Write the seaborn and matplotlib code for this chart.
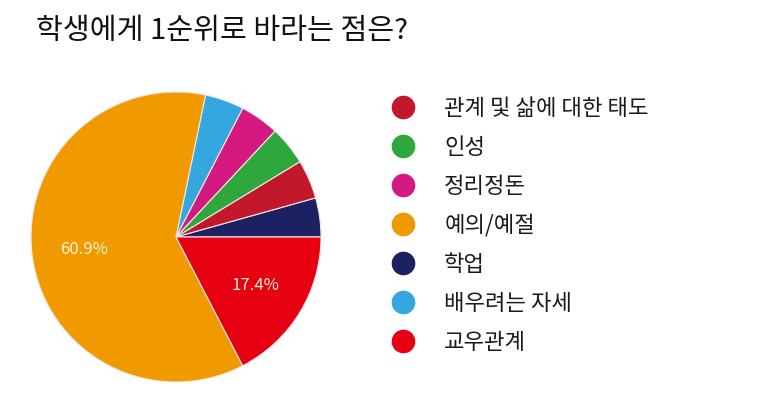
import matplotlib
matplotlib.use("Agg")
import matplotlib.pyplot as plt
import seaborn as sns
from matplotlib.lines import Line2D

sns.set_theme(style="white")
plt.rcParams['font.family'] = ['Noto Sans CJK KR', 'DejaVu Sans']

# Data (counts; 4/23 = 17.4%, 14/23 = 60.9%)
pie_labels = ["학업", "관계 및 삶에 대한 태도", "인성", "정리정돈", "배우려는 자세", "예의/예절", "교우관계"]
pie_counts = [1, 1, 1, 1, 1, 14, 4]
pie_colors = ["#1b2161", "#c2182b", "#2ea83c", "#d41a80", "#34a7df", "#f09a00", "#e50012"]

legend_order = ["관계 및 삶에 대한 태도", "인성", "정리정돈", "예의/예절", "학업", "배우려는 자세", "교우관계"]
title = "학생에게 1순위로 바라는 점은?"

fig = plt.figure(figsize=(7.68, 4.04), dpi=100)
fig.patch.set_facecolor("white")

ax = fig.add_axes([31/768, 22/404, 290/768, 290/404])

def fmt(p):
    return f"{p:.1f}%" if p > 10 else ""

wedges, texts, autotexts = ax.pie(
    pie_counts, colors=pie_colors, startangle=0, counterclock=True,
    autopct=fmt, pctdistance=0.64,
    wedgeprops=dict(edgecolor="#f4e6e6", linewidth=0.8),
    textprops=dict(color="#fff3d8", fontsize=12),
)
ax.set_xlim(-1, 1)
ax.set_ylim(-1, 1)
ax.set_aspect("equal")
ax.axis("off")

fig.text(36/768, 1 - 31/404, title, fontsize=21, color="#111111", va="center", ha="left")

color_map = dict(zip(pie_labels, pie_colors))
handles = [Line2D([0], [0], marker="o", linestyle="none", markersize=16,
                  markerfacecolor=color_map[l], markeredgecolor=color_map[l]) for l in legend_order]
leg = fig.legend(handles, legend_order, loc="upper left", bbox_to_anchor=(392/768, 1 - 97/404),
                 frameon=False, labelspacing=0.72, handletextpad=1.35,
                 borderaxespad=0, borderpad=0, handlelength=1.0,
                 prop=dict(size=16, weight="medium"))
for t in leg.get_texts():
    t.set_color("#1a1a1a")

fig.savefig("out.png", dpi=100, facecolor="white")
